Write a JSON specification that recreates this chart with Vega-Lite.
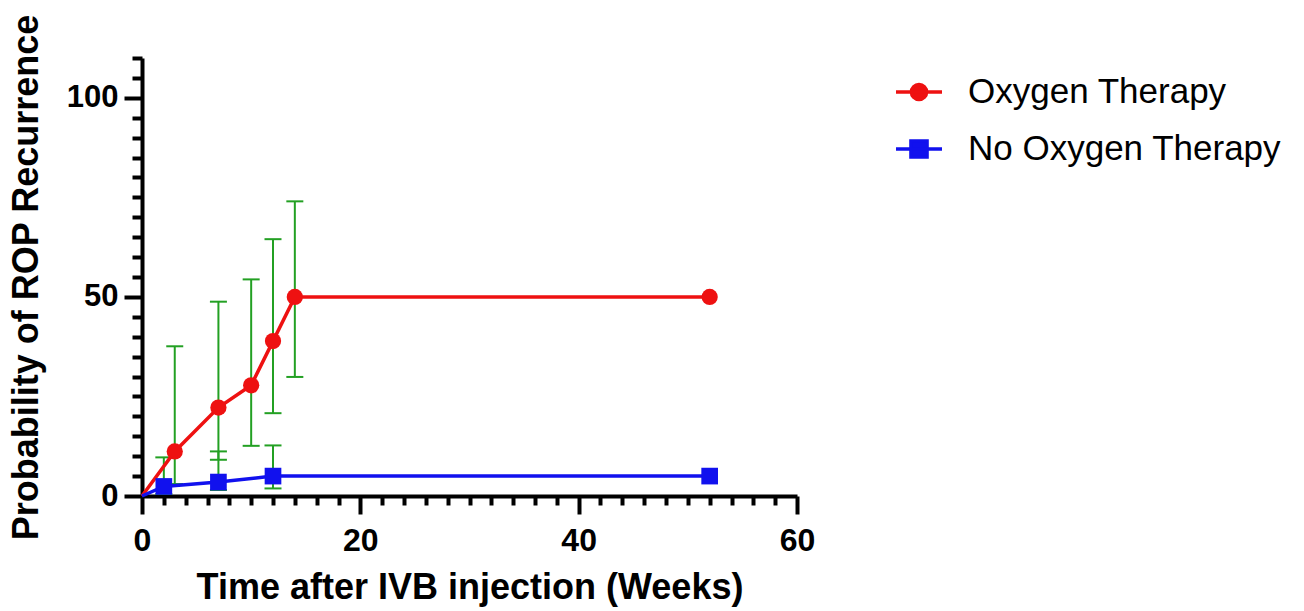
{
  "$schema": "https://vega.github.io/schema/vega-lite/v6.json",
  "width": 655,
  "height": 438,
  "autosize": {"type": "none"},
  "padding": {"left": 142, "top": 58, "right": 507, "bottom": 115},
  "background": "white",
  "config": {
    "view": {"stroke": null},
    "font": "Liberation Sans",
    "axis": {
      "grid": false,
      "domainColor": "black",
      "domainWidth": 4,
      "tickColor": "black",
      "tickWidth": 4,
      "labelFont": "Liberation Sans",
      "labelFontWeight": "bold",
      "labelColor": "black",
      "labelFlush": false,
      "labelBound": false,
      "labelOverlap": false,
      "titleFont": "Liberation Sans",
      "titleFontWeight": "bold",
      "titleFontSize": 36,
      "titleColor": "black"
    }
  },
  "data": {
    "values": [
      {"series": "Oxygen Therapy", "week": 0, "value": 0},
      {"series": "Oxygen Therapy", "week": 3, "value": 11.2, "lo": 3, "hi": 37.6},
      {"series": "Oxygen Therapy", "week": 7, "value": 22.2, "lo": 9.1, "hi": 48.8},
      {"series": "Oxygen Therapy", "week": 10, "value": 27.8, "lo": 12.6, "hi": 54.4},
      {"series": "Oxygen Therapy", "week": 12, "value": 38.9, "lo": 20.8, "hi": 64.5},
      {"series": "Oxygen Therapy", "week": 14, "value": 50, "lo": 29.9, "hi": 74},
      {"series": "Oxygen Therapy", "week": 52, "value": 50},
      {"series": "No Oxygen Therapy", "week": 0, "value": 0},
      {"series": "No Oxygen Therapy", "week": 2, "value": 2.4, "lo": 0.5, "hi": 9.7},
      {"series": "No Oxygen Therapy", "week": 7, "value": 3.5, "lo": 1.5, "hi": 11.2},
      {"series": "No Oxygen Therapy", "week": 12, "value": 5, "lo": 1.9, "hi": 12.7},
      {"series": "No Oxygen Therapy", "week": 52, "value": 5}
    ]
  },
  "encoding": {
    "x": {
      "field": "week",
      "type": "quantitative",
      "scale": {"domain": [0, 60], "nice": false, "zero": false},
      "axis": {
        "title": "Time after IVB injection (Weeks)",
        "values": [0,2,4,6,8,10,12,14,16,18,20,22,24,26,28,30,32,34,36,38,40,42,44,46,48,50,52,54,56,58,60],
        "labelExpr": "datum.value % 20 === 0 ? datum.label : ''",
        "tickSize": {"condition": {"test": "datum.value % 20 === 0", "value": 18}, "value": 9},
        "labelFontSize": 32,
        "labelPadding": 11,
        "titlePadding": 14
      }
    }
  },
  "layer": [
    {
      "transform": [{"filter": "isValid(datum.lo)"}],
      "mark": {"type": "rule", "color": "#23a023", "strokeWidth": 2},
      "encoding": {
        "y": {
          "field": "lo",
          "type": "quantitative",
          "scale": {"domain": [0, 110], "nice": false},
          "axis": {
            "title": "Probability of ROP Recurrence",
            "values": [0,5,10,15,20,25,30,35,40,45,50,55,60,65,70,75,80,85,90,95,100,105,110],
            "labelExpr": "datum.value % 50 === 0 ? datum.label : ''",
            "tickSize": {"condition": {"test": "datum.value % 50 === 0", "value": 18}, "value": 10},
            "labelFontSize": 31,
            "labelPadding": 6,
            "titlePadding": 21
          }
        },
        "y2": {"field": "hi"}
      }
    },
    {
      "transform": [{"filter": "isValid(datum.lo)"}],
      "mark": {"type": "tick", "orient": "horizontal", "color": "#23a023", "size": 17, "thickness": 2, "opacity": 1},
      "encoding": {
        "y": {
          "field": "lo",
          "type": "quantitative",
          "axis": {
            "title": "Probability of ROP Recurrence",
            "values": [0,5,10,15,20,25,30,35,40,45,50,55,60,65,70,75,80,85,90,95,100,105,110],
            "labelExpr": "datum.value % 50 === 0 ? datum.label : ''",
            "tickSize": {"condition": {"test": "datum.value % 50 === 0", "value": 18}, "value": 10},
            "labelFontSize": 31,
            "labelPadding": 6,
            "titlePadding": 21
          }
        }
      }
    },
    {
      "transform": [{"filter": "isValid(datum.lo)"}],
      "mark": {"type": "tick", "orient": "horizontal", "color": "#23a023", "size": 17, "thickness": 2, "opacity": 1},
      "encoding": {
        "y": {
          "field": "hi",
          "type": "quantitative",
          "axis": {
            "title": "Probability of ROP Recurrence",
            "values": [0,5,10,15,20,25,30,35,40,45,50,55,60,65,70,75,80,85,90,95,100,105,110],
            "labelExpr": "datum.value % 50 === 0 ? datum.label : ''",
            "tickSize": {"condition": {"test": "datum.value % 50 === 0", "value": 18}, "value": 10},
            "labelFontSize": 31,
            "labelPadding": 6,
            "titlePadding": 21
          }
        }
      }
    },
    {
      "mark": {"type": "line", "strokeWidth": 3.5},
      "encoding": {
        "y": {
          "field": "value",
          "type": "quantitative",
          "axis": {
            "title": "Probability of ROP Recurrence",
            "values": [0,5,10,15,20,25,30,35,40,45,50,55,60,65,70,75,80,85,90,95,100,105,110],
            "labelExpr": "datum.value % 50 === 0 ? datum.label : ''",
            "tickSize": {"condition": {"test": "datum.value % 50 === 0", "value": 18}, "value": 10},
            "labelFontSize": 31,
            "labelPadding": 6,
            "titlePadding": 21
          }
        },
        "color": {
          "field": "series",
          "type": "nominal",
          "scale": {"domain": ["Oxygen Therapy", "No Oxygen Therapy"], "range": ["#ee1111", "#1111ee"]},
          "legend": {
            "orient": "none",
            "legendX": 752,
            "legendY": 9,
            "title": null,
            "padding": 0,
            "labelFont": "Liberation Sans",
            "labelFontSize": 35,
            "labelFontWeight": "normal",
            "labelColor": "black",
            "labelLimit": 0,
            "labelOffset": 24,
            "rowPadding": 14,
            "symbolSize": 2116,
            "symbolStrokeWidth": 3.5,
            "symbolOpacity": 1
          }
        }
      }
    },
    {
      "transform": [{"filter": "datum.week < 0"}],
      "mark": {"type": "point", "filled": true, "opacity": 1, "fillOpacity": 1, "size": 2116, "strokeWidth": 3.5},
      "encoding": {
        "y": {
          "field": "value",
          "type": "quantitative",
          "axis": {
            "title": "Probability of ROP Recurrence",
            "values": [0,5,10,15,20,25,30,35,40,45,50,55,60,65,70,75,80,85,90,95,100,105,110],
            "labelExpr": "datum.value % 50 === 0 ? datum.label : ''",
            "tickSize": {"condition": {"test": "datum.value % 50 === 0", "value": 18}, "value": 10},
            "labelFontSize": 31,
            "labelPadding": 6,
            "titlePadding": 21
          }
        },
        "color": {"field": "series", "type": "nominal"},
        "shape": {
          "field": "series",
          "type": "nominal",
          "scale": {
            "domain": ["Oxygen Therapy", "No Oxygen Therapy"],
            "range": [
              "M-1,0H1M0.33,0A0.33,0.33,0,1,1,-0.33,0A0.33,0.33,0,1,1,0.33,0Z",
              "M-1,0H1M-0.35,-0.35H0.35V0.35H-0.35Z"
            ]
          },
          "legend": null
        }
      }
    },
    {
      "transform": [{"filter": "datum.week > 0 && datum.series === 'Oxygen Therapy'"}],
      "mark": {"type": "point", "filled": true, "opacity": 1, "shape": "circle", "size": 264, "color": "#ee1111"},
      "encoding": {
        "y": {
          "field": "value",
          "type": "quantitative",
          "axis": {
            "title": "Probability of ROP Recurrence",
            "values": [0,5,10,15,20,25,30,35,40,45,50,55,60,65,70,75,80,85,90,95,100,105,110],
            "labelExpr": "datum.value % 50 === 0 ? datum.label : ''",
            "tickSize": {"condition": {"test": "datum.value % 50 === 0", "value": 18}, "value": 10},
            "labelFontSize": 31,
            "labelPadding": 6,
            "titlePadding": 21
          }
        }
      }
    },
    {
      "transform": [{"filter": "datum.week > 0 && datum.series === 'No Oxygen Therapy'"}],
      "mark": {"type": "point", "filled": true, "opacity": 1, "shape": "square", "size": 278, "color": "#1111ee"},
      "encoding": {
        "y": {
          "field": "value",
          "type": "quantitative",
          "axis": {
            "title": "Probability of ROP Recurrence",
            "values": [0,5,10,15,20,25,30,35,40,45,50,55,60,65,70,75,80,85,90,95,100,105,110],
            "labelExpr": "datum.value % 50 === 0 ? datum.label : ''",
            "tickSize": {"condition": {"test": "datum.value % 50 === 0", "value": 18}, "value": 10},
            "labelFontSize": 31,
            "labelPadding": 6,
            "titlePadding": 21
          }
        }
      }
    }
  ]
}
